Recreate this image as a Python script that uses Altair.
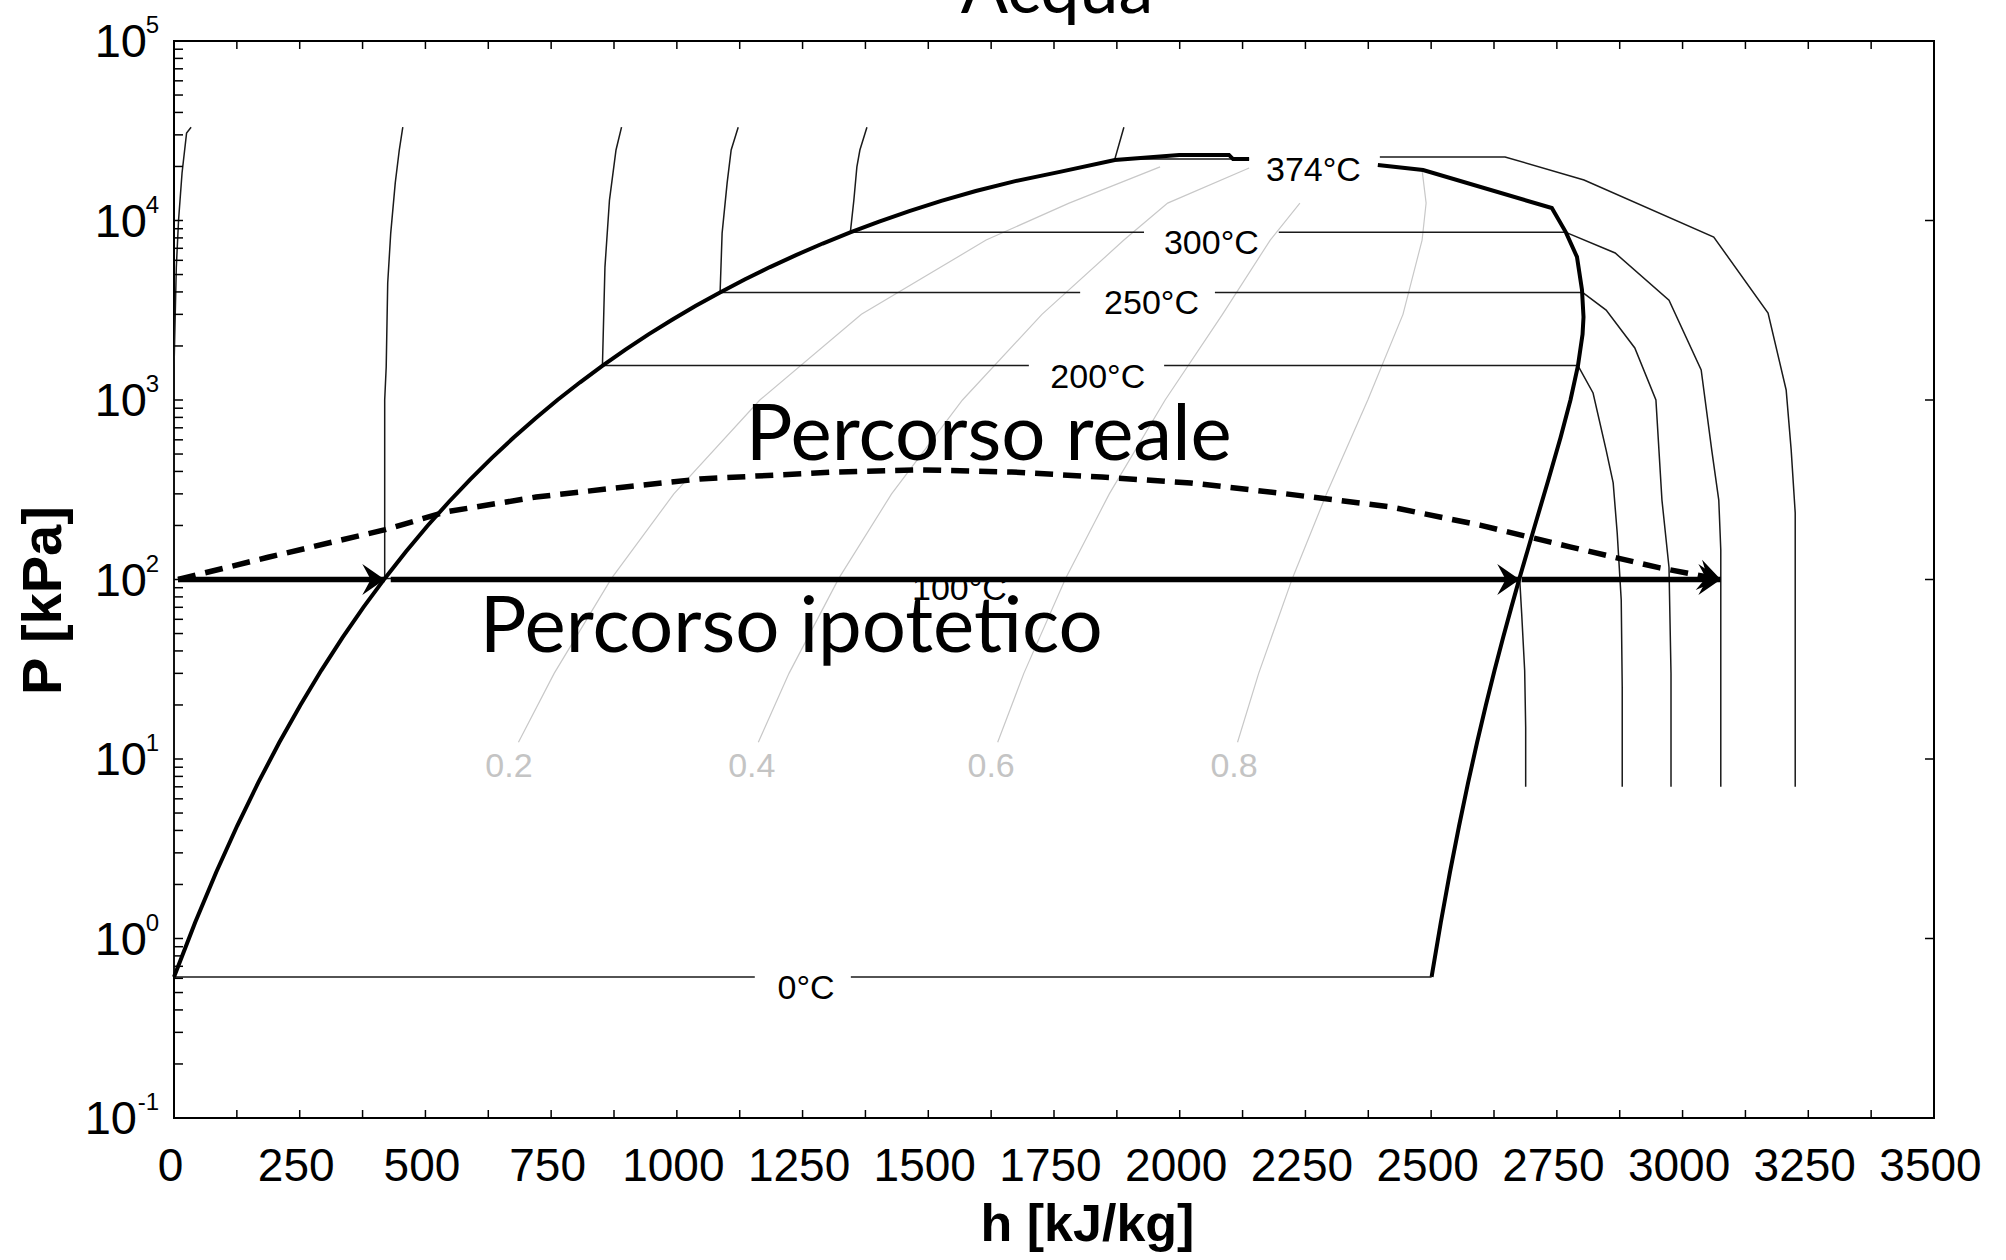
import altair as alt
import pandas as pd

FONT_AX = "Liberation Sans"
FONT_ANN = "Lato"
W, H = 1760, 1077

# ---- axis ticks -------------------------------------------------------------
X_LABELS = list(range(0, 3501, 250))
X_TICKS = list(range(125, 3500, 125))
DECADES = [-1, 0, 1, 2, 3, 4, 5]
MINOR_MULT = [2, 3, 4, 5, 6, 7, 8, 9]

# ---- saturation dome (h in kJ/kg, P in kPa) ---------------------------------
LIQ_H = [0, 42.0, 83.9, 125.7, 167.5, 209.3, 251.2, 293.0, 335.0, 376.9, 419.2,
         461.4, 503.8, 546.4, 589.2, 632.2, 675.5, 719.1, 763.1, 807.6, 852.3,
         897.8, 943.6, 990.6, 1037.7, 1085.8, 1134.8, 1185.1, 1236.9, 1290.0,
         1344.8, 1402.2, 1462.2, 1525.9, 1594.5, 1670.9, 1761.5, 1871, 1999,
         2098, 2106, 2138]
LIQ_P = [0.611, 1.228, 2.339, 4.247, 7.385, 12.35, 19.95, 31.20, 47.42, 70.18,
         101.4, 143.4, 198.7, 270.3, 361.5, 476.2, 618.2, 792.2, 1002.8, 1255.2,
         1554.9, 1907.7, 2319.6, 2797.1, 3347, 3976.2, 4692.3, 5503, 6416.6,
         7441.8, 8587.9, 9865, 11284, 12858, 14601, 16529, 18666, 21700, 23200,
         23200, 22000, 22000]
VAP_H = [2394, 2484, 2740, 2768, 2790, 2800, 2803, 2801.1, 2792.0, 2777.2,
         2757.4, 2733.5, 2706.0, 2675.6, 2659.6, 2643.0, 2626.1, 2608.8, 2591.3,
         2573.5, 2555.6, 2537.4, 2519.2, 2500.9]
VAP_P = [20400, 19100, 11740, 8588, 6270, 4100, 2900, 2320, 1555, 1003, 618.2,
         361.5, 198.7, 101.4, 70.18, 47.42, 31.2, 19.95, 12.35, 7.385, 4.247,
         2.339, 1.228, 0.611]

# ---- isotherms ----------------------------------------------------------------
T0_LIQ_H = [0, 0, 4.6, 9.1, 16, 25, 34]
T0_LIQ_P = [0.611, 1500, 5500, 10070, 18400, 30700, 33100]
T0_SAT_P = 0.611
T0_SAT_H = [0, 1155, 1346, 2501]          # left piece, gap for label, right piece

T100_LIQ_H = [419, 419, 422, 425, 431, 440, 448, 455]
T100_LIQ_P = [101.4, 1000, 1528, 4490, 8510, 16200, 24700, 33100]
T100_SAT_P = 101.4
T100_SAT_H = [419, 2676]
T100_VAP_H = [2676, 2680, 2686, 2688, 2688]
T100_VAP_P = [101.4, 65, 31, 15, 7]

T200_LIQ_H = [852, 857, 866, 879, 890]
T200_LIQ_P = [1555, 5500, 13000, 24700, 33100]
T200_SAT_P = 1555
T200_SAT_H = [852, 1700, 1969, 2792]
T200_VAP_H = [2792, 2822, 2848, 2862, 2870, 2878, 2880, 2880]
T200_VAP_P = [1555, 1094, 526, 345, 182, 77, 25, 7]

T250_LIQ_H = [1086, 1090, 1100, 1108, 1122]
T250_LIQ_P = [3976, 8500, 16200, 24700, 33100]
T250_SAT_P = 3976
T250_SAT_H = [1086, 1802, 2070, 2801]
T250_VAP_H = [2801, 2848, 2905, 2947, 2959, 2973, 2977, 2977]
T250_VAP_P = [3976, 3170, 1950, 1000, 277, 117, 30, 7]

T300_LIQ_H = [1345, 1352, 1358, 1364, 1378]
T300_LIQ_P = [8588, 13000, 19900, 24700, 33100]
T300_SAT_P = 8588
T300_SAT_H = [1345, 1929, 2197, 2768]
T300_VAP_H = [2768, 2866, 2973, 3037, 3058, 3072, 3076, 3076]
T300_VAP_P = [8588, 6590, 3600, 1470, 526, 277, 146, 7]

T374_LIQ_H = [1889, 1871, 2138]
T374_LIQ_P = [33100, 22000, 22000]
T374_VAP_H = [2398, 2647, 2804, 3062, 3170, 3206, 3216, 3224, 3224]
T374_VAP_P = [22600, 22600, 16800, 8090, 3050, 1137, 526, 235, 7]

ISO_LABELS = ["374°C", "300°C", "250°C", "200°C", "100°C", "0°C"]
ISO_LABEL_H = [2266, 2063, 1944, 1837, 1562, 1257]
ISO_LABEL_P = [22064, 8588, 3976, 1555, 101.4, 0.611]

# ---- constant-quality lines ---------------------------------------------------
Q_P = [12.4, 30, 101.4, 300, 1000, 3000, 7780, 12500]
Q02_H = [685, 756, 870, 994, 1165, 1367, 1615, 1780]
Q04_H = [1162, 1223, 1322, 1427, 1568, 1726, 1889, 1976]
Q06_H = [1638, 1690, 1773, 1860, 1971, 2085, 2180, 2239]
Q08_H = [2115, 2157, 2224, 2292, 2374, 2444, 2482, 2490]
Q_END_H = [1961, 2138, None, 2482]
Q_END_P = [19900, 19600, None, 19100]
Q_LABELS = ["0.2", "0.4", "0.6", "0.8"]
Q_LABEL_H = [666, 1149, 1625, 2108]
Q_LABEL_P = 9.0

# ---- processes ----------------------------------------------------------------
HYP_P = 100
HYP_SEG_H = [(8, 419), (431, 2676), (2680, 3076)]
REAL_H = [8, 187, 418, 541, 720, 897, 1046, 1312, 1489, 1666, 1845, 2022,
          2199, 2418, 2597, 2776, 2955, 3076]
REAL_P = [100, 133, 189, 238, 288, 328, 363, 397, 408, 397, 372, 345, 303,
          254, 201, 152, 116, 100]
HEAD_H = [419, 2676, 3076, 3076]
HEAD_P = [100, 100, 100, 100]
HEAD_ANGLE = [0, 0, 0, 12]

NOTES = ["Percorso reale", "Percorso ipotetico"]
NOTE_H = [1137, 608]
NOTE_P = [463, 39.5]

TITLE = ["Acqua"]


def frame(pieces):
    rows = []
    for name, hs, ps in pieces:
        for i, (h, p) in enumerate(zip(hs, ps)):
            rows.append({"piece": name, "i": i, "h": h, "P": p})
    return pd.DataFrame(rows)


def sat_pieces(tag, hs, p):
    return [(f"{tag}_sat{j}", hs[2 * j:2 * j + 2], [p, p]) for j in range(len(hs) // 2)]


iso_pieces = (
    [("0_liq", T0_LIQ_H, T0_LIQ_P)] + sat_pieces("0", T0_SAT_H, T0_SAT_P)
    + [("100_liq", T100_LIQ_H, T100_LIQ_P), ("100_vap", T100_VAP_H, T100_VAP_P)]
    + sat_pieces("100", T100_SAT_H, T100_SAT_P)
    + [("200_liq", T200_LIQ_H, T200_LIQ_P), ("200_vap", T200_VAP_H, T200_VAP_P)]
    + sat_pieces("200", T200_SAT_H, T200_SAT_P)
    + [("250_liq", T250_LIQ_H, T250_LIQ_P), ("250_vap", T250_VAP_H, T250_VAP_P)]
    + sat_pieces("250", T250_SAT_H, T250_SAT_P)
    + [("300_liq", T300_LIQ_H, T300_LIQ_P), ("300_vap", T300_VAP_H, T300_VAP_P)]
    + sat_pieces("300", T300_SAT_H, T300_SAT_P)
    + [("374_liq", T374_LIQ_H, T374_LIQ_P), ("374_vap", T374_VAP_H, T374_VAP_P)]
)
iso_df = frame(iso_pieces)
dome_df = frame([("liq", LIQ_H, LIQ_P), ("vap", VAP_H, VAP_P)])

q_pieces = []
for lab, hs, eh, ep in zip(Q_LABELS, [Q02_H, Q04_H, Q06_H, Q08_H], Q_END_H, Q_END_P):
    hh, pp = list(hs), list(Q_P)
    if eh is not None:
        hh.append(eh)
        pp.append(ep)
    q_pieces.append((lab, hh, pp))
q_df = frame(q_pieces)

hyp_df = frame([(f"seg{j}", [a, b], [HYP_P, HYP_P]) for j, (a, b) in enumerate(HYP_SEG_H)])
real_df = frame([("real", REAL_H, REAL_P)])
head_df = pd.DataFrame({"h": HEAD_H, "P": HEAD_P, "ang": HEAD_ANGLE})
iso_lab_df = pd.DataFrame({"h": ISO_LABEL_H, "P": ISO_LABEL_P, "t": ISO_LABELS})
q_lab_df = pd.DataFrame({"h": Q_LABEL_H, "P": [Q_LABEL_P] * 4, "t": Q_LABELS})
note_df = pd.DataFrame({"h": NOTE_H, "P": NOTE_P, "t": NOTES})
title_df = pd.DataFrame({"t": TITLE})

xt_df = pd.DataFrame({"h": X_TICKS})
minor = [m * 10 ** k for k in DECADES[:-1] for m in MINOR_MULT]
yt_all_df = pd.DataFrame({"P": [10.0 ** k for k in DECADES] + minor})
dec_df = pd.DataFrame({"k": DECADES, "P": [10.0 ** k for k in DECADES],
                       "base": ["10"] * len(DECADES), "e": [str(k) for k in DECADES]})

# ---- shared encodings ---------------------------------------------------------
X = alt.X("h:Q", scale=alt.Scale(domain=[0, 3500], nice=False, zero=False),
          axis=alt.Axis(values=X_LABELS, format="d", grid=False, domain=False,
                        ticks=False, tickSize=0, labelFont=FONT_AX, labelFontSize=46,
                        labelColor="black", labelPadding=26, labelOffset=-4,
                        labelFlush=False, labelOverlap=False,
                        title="h [kJ/kg]", titleFont=FONT_AX, titleFontSize=52,
                        titleFontWeight="bold", titleColor="black", titleX=913,
                        titleY=122, titleAlign="center", titleBaseline="alphabetic"))
Y = alt.Y("P:Q", scale=alt.Scale(type="log", domain=[0.1, 100000], nice=False),
          axis=alt.Axis(labels=False, ticks=False, domain=False, grid=False,
                        title="P [kPa]", titleFont=FONT_AX, titleFontSize=56,
                        titleFontWeight="bold", titleColor="black", titleAngle=270,
                        titleX=-114, titleY=559, titleAlign="center",
                        titleBaseline="alphabetic"))

ARROW = "M0,0L-1.6,-1.1L-1.0,0L-1.6,1.1Z"

quality = alt.Chart(q_df).mark_line(color="#c8c8c8", strokeWidth=1.2).encode(
    x=X, y=Y, detail="piece:N", order="i:Q")
quality_lab = alt.Chart(q_lab_df).mark_text(
    font=FONT_AX, fontSize=34, color="#c4c4c4", baseline="middle").encode(
    x=X, y=Y, text="t:N")
iso = alt.Chart(iso_df).mark_line(color="#1a1a1a", strokeWidth=1.5).encode(
    x=X, y=Y, detail="piece:N", order="i:Q")
dome = alt.Chart(dome_df).mark_line(color="black", strokeWidth=4).encode(
    x=X, y=Y, detail="piece:N", order="i:Q")
iso_lab = alt.Chart(iso_lab_df).mark_text(
    font=FONT_AX, fontSize=34, color="black", baseline="alphabetic", dy=22).encode(
    x=X, y=Y, text="t:N")
hyp = alt.Chart(hyp_df).mark_line(color="black", strokeWidth=5.5).encode(
    x=X, y=Y, detail="piece:N", order="i:Q")
real = alt.Chart(real_df).mark_line(color="black", strokeWidth=5.5,
                                    strokeDash=[18, 10]).encode(
    x=X, y=Y, order="i:Q")
heads = alt.Chart(head_df).mark_point(shape=ARROW, filled=True, color="black",
                                      size=784, opacity=1, strokeWidth=0).encode(
    x=X, y=Y, angle=alt.Angle("ang:Q", scale=None))
notes = alt.Chart(note_df).mark_text(
    font=FONT_ANN, fontSize=78, color="black", align="left",
    baseline="alphabetic").encode(x=X, y=Y, text="t:N")

# chart heading, centred over the frame and running off the top edge
heading = alt.Chart(title_df).mark_text(
    font=FONT_ANN, fontSize=70, color="black", align="center",
    baseline="alphabetic").encode(x=alt.value(W / 2 + 3), y=alt.value(-28), text="t:N")

# inward ticks on the frame
tick_style = dict(color="black", strokeWidth=1.5)
xt_bottom = alt.Chart(xt_df).mark_rule(**tick_style).encode(
    x=X, y=alt.value(H), y2=alt.value(H - 8))
xt_top = alt.Chart(xt_df).mark_rule(**tick_style).encode(
    x=X, y=alt.value(0), y2=alt.value(8))
yt_left = alt.Chart(yt_all_df).mark_rule(**tick_style).encode(
    y=Y, x=alt.value(0), x2=alt.value(9))
yt_right = alt.Chart(dec_df).mark_rule(**tick_style).encode(
    y=Y, x=alt.value(W), x2=alt.value(W - 9))

# power-of-ten labels: base and raised exponent
base_pos = alt.Chart(dec_df).transform_filter("datum.k >= 0").mark_text(
    font=FONT_AX, fontSize=47, color="black", align="right",
    baseline="alphabetic", dy=16).encode(y=Y, x=alt.value(-27), text="base:N")
base_neg = alt.Chart(dec_df).transform_filter("datum.k < 0").mark_text(
    font=FONT_AX, fontSize=47, color="black", align="right",
    baseline="alphabetic", dy=16).encode(y=Y, x=alt.value(-37), text="base:N")
expo = alt.Chart(dec_df).mark_text(
    font=FONT_AX, fontSize=24, color="black", align="right",
    baseline="alphabetic", dy=-8).encode(y=Y, x=alt.value(-15), text="e:N")

chart = alt.layer(
    quality, quality_lab, iso, dome, iso_lab, hyp, real, heads, notes, heading,
    xt_bottom, xt_top, yt_left, yt_right, base_pos, base_neg, expo,
).properties(
    width=W, height=H,
    background="white",
    autosize=alt.AutoSizeParams(type="none"),
    padding={"left": 174, "top": 41, "right": 72, "bottom": 142},
).configure_view(stroke="black", strokeWidth=2)

chart.save("out.html", embed_options={"renderer": "svg", "actions": False})
